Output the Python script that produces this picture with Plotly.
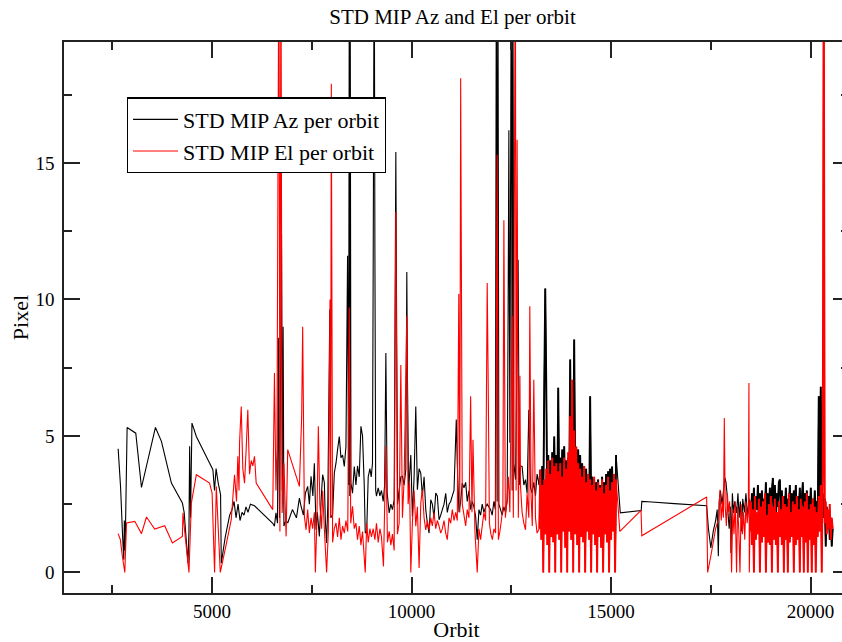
import plotly.graph_objects as go

# ---------------- data (orbit, pixel) ----------------
# Az (black) sparse part, orbits 2645 - 13145
az_orbit_1 = [2645, 2705, 2755, 2787, 2800, 2820, 2870, 3087, 3230, 3580, 3730, 3980, 4255, 4300, 4395, 4420,
              4437, 4460, 4495, 4605, 4895, 5020, 5060, 5100, 5150, 5212, 5230, 5330, 5440, 5500, 5550, 5600,
              5650, 5700, 5750, 5800, 5850, 5900, 5960, 6062, 6520, 6562, 6600, 6640, 6660, 6690, 6740, 6760,
              6780, 6800, 6850, 6895, 7013, 7113, 7188, 7230, 7288, 7338, 7395, 7438, 7480, 7525, 7563, 7605,
              7638, 7688, 7730, 7770, 7813, 7838, 7870, 7900, 7950, 7960, 7975, 8020, 8063, 8105, 8145, 8188,
              8230, 8270, 8313, 8355, 8395, 8420, 8440, 8452, 8462, 8480, 8520, 8563, 8605, 8645, 8688, 8730,
              8770, 8813, 8838, 8875, 8913, 8955, 8988, 9020, 9038, 9063, 9080, 9100, 9120, 9163, 9205, 9245,
              9288, 9325, 9355, 9388, 9438, 9480, 9520, 9563, 9605, 9625, 9650, 9688, 9730, 9770, 9813, 9855,
              9880, 9895, 9925, 9980, 10020, 10063, 10105, 10145, 10188, 10230, 10270, 10313, 10355, 10395,
              10438, 10480, 10520, 10563, 10605, 10645, 10688, 10730, 10770, 10813, 10855, 10895, 10938, 10980,
              11020, 11063, 11120, 11145, 11188, 11230, 11270, 11313, 11355, 11395, 11438, 11480, 11520, 11563,
              11605, 11645, 11688, 11730, 11770, 11813, 11855, 11895, 11938, 11980, 12020, 12063, 12100, 12125,
              12145, 12163, 12188, 12230, 12270, 12313, 12355, 12395, 12420, 12438, 12463, 12500, 12520, 12538,
              12563, 12605, 12670, 12700, 12730, 12770, 12813, 12855, 12895, 12938, 12980, 13020, 13063, 13105,
              13145]
az_val_1 = [4.53, 3.15, 1.38, 0.46, 1.9, 0.8, 5.31, 5.1, 3.11, 5.31, 4.8, 3.27, 2.54, 2.2, 0.34, 1.5,
            4.62, 2.0, 5.47, 4.98, 4.13, 3.76, 3.0, 3.8, 3.3, 2.85, 0.34, 1.3, 2.1, 2.3, 2.6, 2.0,
            2.5, 1.9, 2.2, 2.1, 2.4, 2.2, 2.5, 2.44, 1.8, 1.69, 2.18, 1.8, 8.6, 2.0, 12.4, 3.0,
            9.0, 1.7, 1.9, 1.81, 2.3, 2.0, 2.72, 2.42, 2.1, 2.9, 3.15, 2.5, 3.52, 2.8, 4.0, 1.56,
            2.2, 1.32, 2.6, 3.58, 3.3, 1.9, 1.08, 2.5, 9.63, 6.1, 2.0, 2.1, 3.64, 4.0, 4.5, 4.98,
            4.2, 4.3, 3.88, 4.62, 11.6, 3.2, 24.0, 2.8, 21.0, 3.27, 2.9, 3.88, 3.2, 3.9, 3.5, 5.35,
            5.0, 3.2, 1.44, 1.5, 3.5, 3.8, 3.5, 4.0, 11.45, 24.0, 11.9, 3.0, 2.79, 3.1, 2.8, 3.0,
            2.6, 3.2, 8.04, 2.9, 2.18, 2.5, 2.3, 2.66, 15.4, 9.1, 2.5, 3.0, 3.5, 3.52, 3.2, 3.76,
            11.0, 7.3, 3.0, 4.3, 2.05, 3.5, 6.08, 3.03, 3.8, 3.64, 2.8, 3.5, 2.3, 1.81,
            1.44, 2.66, 2.5, 2.0, 2.91, 2.8, 1.93, 2.1, 2.3, 2.5, 2.9, 2.2, 2.5, 2.6,
            2.8, 3.0, 5.6, 4.0, 2.2, 2.6, 3.27, 3.1, 3.3, 2.6, 3.0, 2.3, 2.6, 2.4,
            2.05, 1.2, 2.3, 2.1, 2.5, 2.2, 2.4, 2.5, 2.4, 2.3, 2.1, 2.6, 2.3, 24.0,
            2.6, 24.0, 2.5, 2.3, 2.1, 2.4, 2.2, 2.6, 9.8, 16.2, 4.75, 24.0, 3.0, 24.0,
            4.0, 3.4, 11.45, 3.2, 3.9, 3.88, 3.2, 3.4, 2.9, 5.96, 3.1, 2.91, 3.3, 2.8,
            3.6]

# Az dense block, orbits 13200 .. every 25
C_START, C_STEP = 13200, 25
az_dense_c = [3.2, 3.76, 2.6, 3.9, 2.2, 6.8, 10.4, 6.94, 2.4, 4.3, 2.8, 4.1, 2.5, 4.4, 3.0, 4.98,
              2.6, 4.3, 2.2, 6.76, 2.9, 4.2, 2.4, 4.5, 3.1, 4.62, 2.7, 4.1, 2.3, 4.2, 3.0, 7.8,
              3.6, 5.0, 3.2, 8.53, 3.4, 4.6, 2.6, 4.5, 3.0, 4.3, 1.9, 4.0, 2.5, 3.9, 1.2, 3.8,
              2.2, 3.6, 2.0, 6.45, 2.4, 3.5, 1.8, 3.4, 1.44, 3.3, 2.1, 3.4, 1.6, 3.2, 2.0, 3.5,
              1.1, 3.3, 2.2, 3.6, 1.8, 3.7, 2.3, 3.8, 1.9, 3.88, 2.5, 3.6, 0.95, 4.3]

# Az sparse part, orbits 15230 - 18455
az_orbit_2 = [15230, 15755, 15770, 16020, 16587, 17395, 17440, 17500, 17560, 17620, 17660, 17688,
              17710, 17740, 17780, 17810, 17855, 17880, 17905, 17930, 17960, 17990, 18005, 18040,
              18070, 18100, 18145, 18180, 18210, 18240, 18270, 18300, 18340, 18380, 18420, 18455]
az_val_2 = [2.18, 2.27, 2.6, 2.58, 2.52, 2.44, 1.6, 0.9, 1.5, 1.9, 2.3, 0.59,
            2.6, 3.0, 2.5, 2.9, 3.46, 3.3, 2.9, 2.18, 1.6, 2.4, 0.71, 2.9,
            2.18, 2.6, 2.18, 2.9, 2.0, 2.6, 1.5, 2.7, 2.2, 2.9, 2.0, 2.7]

# Az dense block, orbits 18480 .. every 25
E_START, E_STEP = 18480, 25
az_dense_e = [2.6, 2.1, 2.9, 2.2, 3.1, 2.0, 2.8, 2.3, 3.2, 1.8, 2.9, 2.2, 3.0, 2.1, 2.7, 2.3,
              3.3, 1.9, 2.9, 2.2, 3.1, 1.3, 3.0, 3.46, 2.3, 3.2, 2.0, 2.9, 2.4, 3.3, 3.4, 2.1,
              3.0, 1.9, 2.8, 2.3, 3.1, 2.0, 2.7, 2.3, 3.2, 1.7, 2.9, 2.2, 3.0, 2.4, 3.2, 2.0,
              2.8, 2.3, 3.1, 2.0, 2.7, 3.3, 2.1, 2.9, 1.8, 3.0, 2.3, 2.8, 2.0, 3.1, 2.2, 2.7,
              1.9, 3.0, 2.2, 2.6, 2.0, 6.45, 2.5, 6.8, 2.4, 2.9, 2.0, 2.7, 0.95, 2.4, 1.6, 2.2,
              1.2, 2.0, 0.95, 1.6]

# El (red) sparse part, orbits 2645 - 13145
el_orbit_1 = [2645, 2700, 2750, 2812, 2855, 3062, 3230, 3355, 3562, 3812, 4005, 4255, 4270, 4320, 4420,
              4480, 4605, 4937, 5000, 5062, 5105, 5205, 5350, 5480, 5513, 5562, 5612, 5645, 5675, 5688,
              5730, 5770, 5813, 5855, 5895, 5938, 5980, 6020, 6063, 6105, 6520, 6563, 6600, 6625, 6675,
              6700, 6725, 6755, 6800, 6855, 6895, 7188, 7245, 7270, 7313, 7355, 7395, 7438, 7480, 7520,
              7563, 7588, 7625, 7663, 7700, 7745, 7770, 7813, 7870, 7913, 7955, 7970, 7988, 8020, 8063,
              8105, 8145, 8188, 8230, 8270, 8313, 8355, 8400, 8438, 8475, 8520, 8563, 8605, 8645, 8688,
              8730, 8770, 8838, 8875, 8913, 8955, 8995, 9038, 9080, 9120, 9163, 9205, 9245, 9295, 9355,
              9395, 9438, 9480, 9520, 9563, 9605, 9645, 9688, 9730, 9770, 9813, 9880, 9913, 9950, 9980,
              10020, 10063, 10105, 10145, 10188, 10230, 10270, 10313, 10355, 10395, 10438, 10480, 10520,
              10563, 10605, 10645, 10688, 10730, 10770, 10813, 10855, 10895, 10938, 10980, 11020, 11063,
              11105, 11145, 11183, 11208, 11230, 11270, 11313, 11355, 11395, 11438, 11480, 11513, 11538,
              11588, 11645, 11688, 11730, 11770, 11813, 11855, 11895, 11920, 11950, 11988, 12025, 12063,
              12105, 12145, 12175, 12213, 12250, 12288, 12313, 12350, 12388, 12425, 12463, 12520, 12550,
              12600, 12620, 12645, 12675, 12715, 12730, 12770, 12813, 12855, 12895, 12938, 12963, 12995,
              13025, 13063, 13105, 13145]
el_val_1 = [1.42, 1.2, 0.6, 0.0, 1.81, 1.87, 1.42, 2.03, 1.59, 1.71, 1.08, 1.32, 2.18, 1.4, 0.0,
            2.54, 3.58, 3.27, 2.9, 0.0, 3.15, 0.0, 1.0, 1.93, 2.6, 3.58, 2.6, 4.25, 3.0, 4.75,
            6.08, 3.8, 3.27, 4.56, 5.96, 3.6, 4.1, 3.9, 4.25, 3.27, 2.3, 7.3, 3.0, 4.5, 24.0,
            1.5, 24.0, 2.18, 4.0, 1.32, 4.5, 3.15, 5.72, 9.0, 2.05, 1.56, 2.3, 1.44, 2.0, 1.6,
            2.2, 0.0, 1.8, 5.35, 2.5, 1.6, 3.0, 1.6, 0.0, 1.5, 10.0, 2.0, 17.9, 1.1, 1.6,
            1.81, 1.3, 2.0, 1.2, 1.7, 1.44, 1.9, 1.5, 9.7, 1.8, 2.42, 1.6, 1.8, 1.2, 1.7,
            1.0, 1.5, 0.0, 1.8, 1.1, 1.6, 1.3, 1.6, 1.2, 1.8, 1.1, 1.6, 1.3, 0.22, 4.62,
            1.1, 1.5, 1.0, 1.4, 0.8, 13.2, 1.4, 1.8, 7.6, 2.0, 3.4, 9.4, 2.5, 3.27, 0.0,
            1.81, 3.0, 1.69, 2.4, 0.16, 2.54, 3.03, 2.0, 1.56, 1.9, 1.56, 2.0, 1.7,
            2.2, 1.6, 1.9, 1.7, 1.44, 1.6, 1.9, 1.44, 1.2, 2.0, 1.8, 2.3, 1.9,
            2.2, 1.9, 10.2, 2.2, 18.1, 2.5, 2.1, 1.7, 2.3, 2.0, 6.45, 2.2, 4.86,
            1.5, 0.0, 1.6, 1.2, 1.7, 2.2, 1.9, 10.6, 6.94, 1.8, 1.4, 1.2, 1.6,
            1.44, 15.3, 1.2, 1.5, 1.9, 2.4, 12.9, 2.0, 2.6, 3.5, 2.2, 9.4, 2.0,
            24.0, 3.0, 15.85, 2.0, 7.2, 3.15, 2.2, 1.8, 1.56, 2.9, 2.0, 9.75, 2.79,
            1.7, 7.06, 2.0, 1.44]

el_dense_c = [1.6, 3.76, 1.2, 3.2, 0.0, 3.4, 1.4, 3.8, 1.0, 4.1, 0.0, 3.6, 1.3, 4.2, 1.1, 3.9,
              0.0, 4.0, 1.4, 3.7, 1.2, 4.0, 0.0, 3.5, 1.5, 4.2, 0.9, 3.8, 0.0, 4.4, 1.5, 5.72,
              1.2, 7.06, 0.0, 5.2, 1.4, 4.6, 1.0, 4.0, 0.0, 3.8, 1.3, 3.5, 1.1, 3.9, 0.0, 3.3,
              1.5, 3.6, 1.2, 3.4, 0.0, 3.2, 1.4, 3.5, 1.0, 3.0, 0.0, 3.3, 1.3, 3.1, 0.9, 3.4,
              0.0, 2.9, 1.4, 3.2, 1.1, 3.5, 0.0, 3.0, 1.2, 3.3, 1.5, 3.6, 0.0, 3.4]

el_orbit_2 = [15220, 15750, 15770, 17395, 17420, 17500, 17560, 17620, 17688, 17730, 17760, 17790,
              17815, 17838, 17860, 17890, 17915, 17940, 17970, 18000, 18020, 18050, 18080, 18110,
              18145, 18170, 18200, 18230, 18260, 18290, 18320, 18350, 18380, 18410, 18440, 18455,
              18465]
el_val_2 = [1.5, 2.27, 1.34, 2.76, 0.0, 0.6, 1.1, 1.6, 1.93, 3.03, 1.9, 2.6,
            2.0, 5.66, 2.4, 1.7, 2.9, 2.2, 2.6, 1.5, 0.0, 2.3, 1.4, 2.6,
            0.0, 2.4, 1.6, 0.0, 2.5, 1.4, 2.2, 1.2, 2.6, 1.8, 2.3, 6.94,
            0.0]

el_dense_e = [1.5, 2.6, 1.0, 2.3, 0.0, 2.8, 1.2, 2.2, 1.4, 2.7, 0.0, 2.4, 1.1, 2.6, 1.3, 2.9,
              0.0, 2.1, 1.1, 2.5, 1.0, 2.8, 0.0, 2.4, 1.2, 2.7, 1.0, 2.2, 0.0, 2.6, 1.3, 2.3,
              1.0, 2.8, 0.0, 2.5, 1.2, 2.4, 0.0, 2.9, 1.1, 2.2, 1.3, 2.6, 0.0, 2.5, 1.0, 2.8,
              1.2, 2.3, 0.0, 2.7, 1.3, 2.4, 0.0, 2.6, 1.1, 2.9, 0.0, 2.3, 1.2, 2.5, 0.0, 2.7,
              1.0, 2.4, 0.0, 2.2, 1.3, 2.8, 1.5, 3.2, 0.0, 3.5, 24.0, 1.8, 2.6, 1.4, 2.3, 1.6,
              2.5, 1.2, 2.0, 1.6]

X_TICKS = [5000, 10000, 15000, 20000]
X_TICK_TEXT = ["5000", "10000", "15000", "20000"]
Y_TICKS = [0, 5, 10, 15]


def block_orbits(start, step, values):
    return [start + step * i for i in range(len(values))]


az_cx = block_orbits(C_START, C_STEP, az_dense_c)
az_ex = block_orbits(E_START, E_STEP, az_dense_e)
el_cx = block_orbits(C_START, C_STEP, el_dense_c)
el_ex = block_orbits(E_START, E_STEP, el_dense_e)

az_x = az_orbit_1 + az_cx + az_orbit_2 + az_ex
az_y = az_val_1 + az_dense_c + az_val_2 + az_dense_e
el_x = el_orbit_1 + el_cx + el_orbit_2 + el_ex
el_y = el_val_1 + el_dense_c + el_val_2 + el_dense_e

FONT = "Liberation Serif"
W = 851
BLACK, RED = "#000000", "#ff0000"

fig = go.Figure()
fig.add_trace(go.Scatter(x=az_x, y=az_y, mode="lines", name="STD MIP Az per orbit",
                         line=dict(color=BLACK, width=1.1, simplify=False)))
# the densely sampled stretches of the same series, drawn a little heavier so they read as a filled band
for bx, by in ((az_cx, az_dense_c), (az_ex, az_dense_e)):
    fig.add_trace(go.Scatter(x=bx, y=by, mode="lines", showlegend=False, hoverinfo="skip",
                             line=dict(color=BLACK, width=1.9, simplify=False)))
fig.add_trace(go.Scatter(x=el_x, y=el_y, mode="lines", name="STD MIP El per orbit",
                         line=dict(color=RED, width=1.1, simplify=False)))
for bx, by in ((el_cx, el_dense_c), (el_ex, el_dense_e)):
    fig.add_trace(go.Scatter(x=bx, y=by, mode="lines", showlegend=False, hoverinfo="skip",
                             line=dict(color=RED, width=1.9, simplify=False)))

axis_common = dict(showline=True, linecolor="#222222", linewidth=1.5, mirror="ticks",
                   ticks="inside", ticklen=16, tickwidth=1.5, tickcolor="#222222",
                   showgrid=False, zeroline=False,
                   tickfont=dict(family=FONT, size=19, color="#000000"),
                   title_font=dict(family=FONT, size=22, color="#000000"))

fig.update_xaxes(range=[1288, 1288 + (W - 64) * 25], tickvals=X_TICKS, ticktext=X_TICK_TEXT,
                 minor=dict(dtick=2500, tick0=0, ticks="inside", ticklen=8, tickwidth=1.5, tickcolor="#222222"),
                 title_text="Orbit", title_standoff=0, **axis_common)
fig.update_yaxes(range=[-0.755, 19.43], tickvals=Y_TICKS, ticklabelstandoff=4,
                 minor=dict(dtick=2.5, tick0=0, ticks="inside", ticklen=8, tickwidth=1.5, tickcolor="#222222"),
                 title_text="Pixel", title_standoff=1, **axis_common)

fig.update_layout(
    width=W, height=642,
    margin=dict(l=64, r=0, t=42, b=49, pad=0),
    paper_bgcolor="white", plot_bgcolor="white",
    title=dict(text="STD MIP Az and El per orbit", x=452.5 / W, xref="container", xanchor="center",
               y=1 - 17 / 642, yref="container", yanchor="middle",
               font=dict(family=FONT, size=21, color="#000000")),
    showlegend=True,
    legend=dict(x=(127 - 64) / (W - 64), y=(593.3 - 97.7) / 551, xanchor="left", yanchor="top",
                bgcolor="white", bordercolor="#000000", borderwidth=1.2, itemwidth=45,
                font=dict(family=FONT, size=22, color="#000000"), tracegroupgap=0),
)

fig.write_html("out.html", config={"displayModeBar": False},
               post_script="document.body.style.margin='0';document.body.style.overflow='hidden';")
